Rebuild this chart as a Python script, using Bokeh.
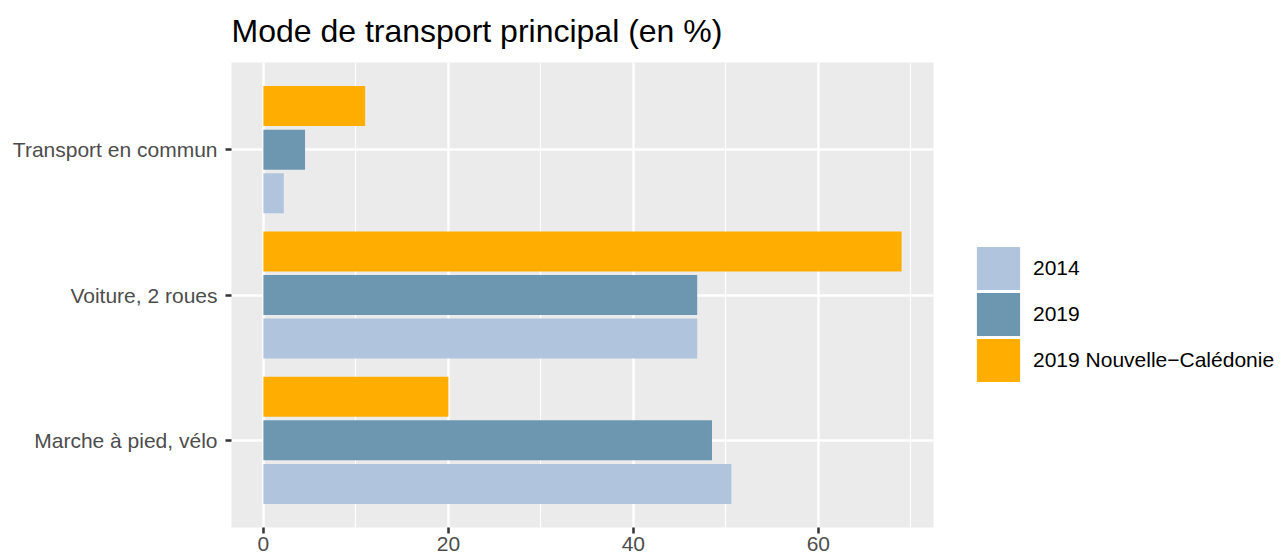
from bokeh.plotting import figure
from bokeh.models import FactorRange, Range1d, FixedTicker, Legend, LegendItem, ColumnDataSource
from bokeh.transform import dodge
from bokeh.embed import file_html
from bokeh.resources import INLINE

categories = ["Marche à pied, vélo", "Voiture, 2 roues", "Transport en commun"]
series = ["2014", "2019", "2019 Nouvelle−Calédonie"]
v2014 = [50.6, 46.9, 2.2]
v2019 = [48.5, 46.9, 4.5]
vNC = [20.0, 69.0, 11.0]
colors = ["#B0C4DE", "#6D97B0", "#FFAE00"]
x_ticks = [0, 20, 40, 60]
x_minor = [10, 30, 50, 70]

FONT = "Liberation Sans"

p = figure(
    y_range=FactorRange(factors=categories, range_padding=0.2 / 3),
    x_range=Range1d(-3.45, 72.45),
    frame_width=702, frame_height=465,
    min_border_left=231, min_border_right=340, min_border_top=61, min_border_bottom=20,
    output_backend="svg", toolbar_location=None,
    title="Mode de transport principal (en %)",
)
p.title.text_font = FONT
p.title.text_font_size = "32px"
p.title.text_font_style = "normal"
p.title.text_color = "black"
p.title.align = "left"
p.title.vertical_align = "top"
p.title.standoff = 24

p.background_fill_color = "#EBEBEB"
p.border_fill_color = "white"
p.outline_line_color = None

src = ColumnDataSource(dict(cat=categories, v2014=v2014, v2019=v2019, vNC=vNC))
offsets = [-0.3, 0.0, 0.3]
cols = ["v2014", "v2019", "vNC"]
key_renderers = []
for col, off, c in zip(cols, offsets, colors):
    p.hbar(y=dodge("cat", off, range=p.y_range), right=col, left=0, height=0.275,
           source=src, fill_color=c, line_color=None)
    # hidden twin that only provides the legend key style (full square key)
    k = p.hbar(y=dodge("cat", off, range=p.y_range), right=col, left=0, height=0.275,
               source=src, fill_color=c, line_color=c, line_width=6.4,
               line_join="miter", visible=False)
    key_renderers.append(k)

p.xaxis.ticker = FixedTicker(ticks=x_ticks, minor_ticks=x_minor)
for ax in (p.xaxis[0], p.yaxis[0]):
    ax.axis_line_color = None
    ax.major_tick_line_color = "#333333"
    ax.major_tick_line_width = 2.5
    ax.major_tick_out = 6
    ax.major_tick_in = 0
    ax.minor_tick_line_color = None
    ax.major_label_text_font = FONT
    ax.major_label_text_font_size = "21px"
    ax.major_label_text_color = "#4D4D4D"
p.yaxis.major_label_standoff = 8
p.xaxis.major_label_standoff = 3

p.xgrid.grid_line_color = "white"
p.xgrid.grid_line_width = 2.4
p.xgrid.minor_grid_line_color = "white"
p.xgrid.minor_grid_line_width = 1.2
p.ygrid.grid_line_color = "white"
p.ygrid.grid_line_width = 2.4

legend = Legend(
    items=[LegendItem(label=s, renderers=[r], index=0) for s, r in zip(series, key_renderers)],
    location=(42, 144),
    glyph_width=46, glyph_height=46, spacing=0,
    label_standoff=12, padding=0, margin=0,
    border_line_color=None, background_fill_alpha=0,
    inactive_fill_alpha=0,
    label_text_font=FONT, label_text_font_size="21px", label_text_color="black",
)
p.add_layout(legend, "right")

open("out.html", "w").write(file_html(p, INLINE))
